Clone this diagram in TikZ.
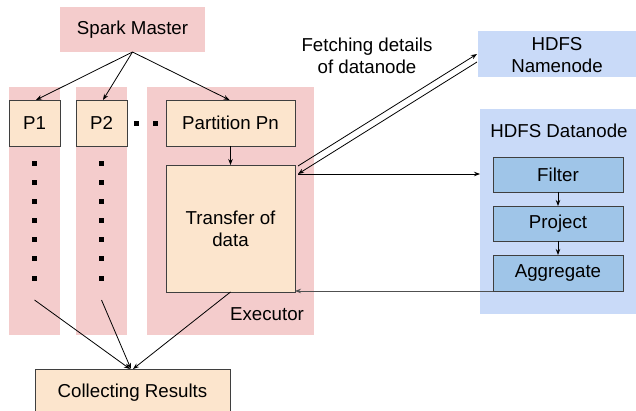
\documentclass[tikz,border=0pt]{standalone}
\usepackage{fontspec}
\setmainfont{Liberation Sans}
\usetikzlibrary{arrows.meta,calc}
\definecolor{sparkbg}{HTML}{F4CCCC}
\definecolor{taskfill}{HTML}{FCE5CD}
\definecolor{hdfsbg}{HTML}{C9DAF8}
\definecolor{opfill}{HTML}{9FC5E8}
\definecolor{edgegray}{HTML}{3F3F3F}
\definecolor{retgray}{HTML}{505050}

\begin{document}
\begin{tikzpicture}[x=1pt,y=-1pt,
  font=\fontsize{18.7}{21.5}\selectfont,
  panel/.style={fill=sparkbg, inner sep=0pt, outer sep=0pt, anchor=north west},
  hdfspanel/.style={fill=hdfsbg, inner sep=0pt, outer sep=0pt, anchor=north west},
  taskbox/.style={draw=edgegray, line width=0.9pt, fill=taskfill, inner sep=0pt, outer sep=0pt, anchor=north west},
  opbox/.style={draw=edgegray, line width=0.9pt, fill=opfill, inner sep=0pt, outer sep=0pt, anchor=north west},
  sq/.style={fill=black, inner sep=0pt, minimum size=5pt},
  arr/.style={line width=0.8pt, -{Stealth[length=6pt,width=4.5pt]}},
  ]
\useasboundingbox (0,0) rectangle (636,411);

% Spark side backgrounds
\node[panel, minimum width=145pt, minimum height=45pt] (master) at (60,7) {};
\node at (master.center) {Spark Master};
\node[panel, minimum width=51pt, minimum height=248pt] (col1) at (9,87) {};
\node[panel, minimum width=51pt, minimum height=248pt] (col2) at (76,87) {};
\node[panel, minimum width=167pt, minimum height=248pt] (exec) at (147,87) {};

% Partitions
\node[taskbox, minimum width=51pt, minimum height=46pt] (p1) at (9,100) {};
\node at (p1.center) {P1};
\node[taskbox, minimum width=51pt, minimum height=46pt] (p2) at (76,100) {};
\node at (p2.center) {P2};
\node[taskbox, minimum width=129pt, minimum height=46pt] (pn) at (166,100) {};
\node at (pn.center) {Partition Pn};
\node[taskbox, minimum width=129pt, minimum height=127pt] (transfer) at (166,165) {};
\node[align=center] at (230.5,229) {Transfer of\\data};
\node (execlabel) at (267,314) {Executor};

% Dots
\node[sq] (h1) at (136,124) {};
\node[sq] (h2) at (155,124) {};
\foreach \i in {0,...,6} {
  \node[sq] (da\i) at (34.5,164+19*\i) {};
  \node[sq] (db\i) at (101.5,164+19*\i) {};
}
\coordinate (enda) at (34.5,300);
\coordinate (endb) at (101.5,300);

% Result collector (runs past the lower edge of the page)
\node[taskbox, minimum width=195pt, minimum height=48pt] (collect) at (35,369) {};
\node at (132.5,393) {Collecting Results};

% HDFS side
\node[hdfspanel, minimum width=158pt, minimum height=46pt] (namenode) at (478,31) {};
\node[align=center] at (557,55) {HDFS\\Namenode};
\node[hdfspanel, minimum width=156pt, minimum height=205pt] (datanode) at (480,109) {};
\node at (559,131) {HDFS Datanode};
\node[opbox, minimum width=130pt, minimum height=35pt] (filter) at (493,157) {};
\node at (filter.center) {Filter};
\node[opbox, minimum width=130pt, minimum height=35pt] (project) at (493,206) {};
\node at (project.center) {Project};
\node[opbox, minimum width=130pt, minimum height=36pt] (aggregate) at (493,255) {};
\node at (aggregate.center) {Aggregate};

\node[align=center] (fetch) at (367,56) {Fetching details\\of datanode};

% Connectors
\draw[arr] (master.south) -- ([xshift=1.5pt]p1.north);
\draw[arr] (master.south) -- ([xshift=1.5pt]p2.north);
\draw[arr] (master.south) -- ([xshift=-1pt]pn.north);
\draw[arr] (pn.south) -- (transfer.north);

\draw[arr] (enda) -- ([xshift=-2.5pt]collect.north);
\draw[arr] (endb) -- ([xshift=-1.5pt]collect.north);
\draw[arr] (transfer.south) -- ([xshift=0.5pt]collect.north);

\draw[arr] ([xshift=3pt,yshift=-1pt]transfer.north east) -- ([xshift=-1pt,yshift=-23pt]namenode.north west);
\draw[arr] ([xshift=-1pt,yshift=-31pt]namenode.north west) -- ([xshift=3pt,yshift=-9pt]transfer.north east);
\draw[arr] ([xshift=3pt,yshift=-9pt]transfer.north east) coordinate (hstart) -- (hstart -| datanode.west);

\draw[arr] (filter.south) -- (project.north);
\draw[arr] (project.south) -- (aggregate.north);
\draw[arr, draw=retgray] (aggregate.south west) -- (aggregate.south west -| transfer.east);
\end{tikzpicture}
\end{document}
